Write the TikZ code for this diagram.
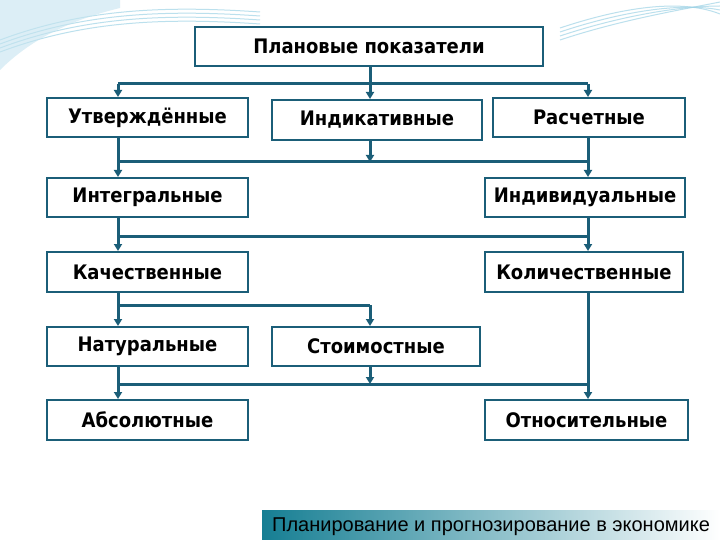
\documentclass[tikz,border=0pt]{standalone}
\usepackage{fontspec}
\setmainfont{Liberation Sans}
\newfontfamily\boxfont{DejaVu Sans Condensed}
\usetikzlibrary{arrows.meta}
\definecolor{ln}{HTML}{1B5E78}
\definecolor{sw}{HTML}{9FD3E6}
\begin{document}
\begin{tikzpicture}[x=1pt,y=-1pt,
  bx/.style={draw=ln,line width=2pt,fill=white,inner sep=0pt,font=\boxfont\fontsize{20}{22}\selectfont\bfseries},
  con/.style={draw=ln,line width=3pt},
  arr/.style={con,-{Triangle[length=7pt,width=8pt]}}]
\useasboundingbox (0,0) rectangle (720,540);
\fill[white] (0,0) rectangle (720,540);
% decorative swooshes
\foreach \d in {0,4,8,12}{
  \draw[sw,line width=1pt,opacity=0.7] (0,40+\d) .. controls (80,10+\d) and (160,5+\d) .. (260,12+\d);
  \draw[sw,line width=1pt,opacity=0.7] (560,40-\d) .. controls (620,20-\d) and (680,10-\d) .. (720,2+\d);
}
\fill[sw!60,opacity=0.6] (0,0) -- (0,70) .. controls (30,40) and (70,20) .. (120,8) -- (120,0) -- cycle;
% boxes
\node[bx,minimum width=348,minimum height=39] (top) at (369,46.5) {Плановые показатели};
\node[bx,minimum width=201,minimum height=39] (utv) at (147.5,117.5) {Утверждённые};
\node[bx,minimum width=210,minimum height=40] (ind) at (377,120) {Индикативные};
\node[bx,minimum width=192,minimum height=39] (ras) at (589,117.5) {Расчетные};
\node[bx,minimum width=201,minimum height=39] (int) at (147.5,197.5) {Интегральные};
\node[bx,minimum width=200,minimum height=39] (indv) at (585,197.5) {Индивидуальные};
\node[bx,minimum width=201,minimum height=40] (kach) at (147.5,272) {Качественные};
\node[bx,minimum width=198,minimum height=40] (kol) at (584,272) {Количественные};
\node[bx,minimum width=201,minimum height=39] (nat) at (147.5,346.5) {Натуральные};
\node[bx,minimum width=208,minimum height=39] (st) at (376,346.5) {Стоимостные};
\node[bx,minimum width=201,minimum height=40] (abs) at (147.5,420) {Абсолютные};
\node[bx,minimum width=203,minimum height=40] (otn) at (586.5,420) {Относительные};
% bus coordinates
\coordinate (b1l) at (118,84); \coordinate (b1r) at (588,84);
\coordinate (b2l) at (118,162); \coordinate (b2r) at (588,162);
\coordinate (b3l) at (118,236); \coordinate (b3r) at (588,236);
\coordinate (b4l) at (118,305); \coordinate (b4r) at (370,305);
\coordinate (b5l) at (118,384); \coordinate (b5r) at (588,384);
% row 1
\draw[con] (top.south -| 370,0) -- (370,84);
\draw[con] (b1l) -- (b1r);
\draw[arr] (b1l) -- (b1l |- utv.north);
\draw[arr] (370,84) -- (370,0 |- ind.north);
\draw[arr] (b1r) -- (b1r |- ras.north);
% row 2
\draw[con] (utv.south -| b2l) -- (b2l) -- (b2r) -- (ras.south -| b2r);
\draw[arr] (ind.south -| 370,0) -- (370,162);
\draw[arr] (b2l) -- (b2l |- int.north);
\draw[arr] (b2r) -- (b2r |- indv.north);
% row 3
\draw[con] (int.south -| b3l) -- (b3l) -- (b3r) -- (indv.south -| b3r);
\draw[arr] (b3l) -- (b3l |- kach.north);
\draw[arr] (b3r) -- (b3r |- kol.north);
% row 4
\draw[con] (kach.south -| b4l) -- (b4l) -- (b4r);
\draw[arr] (b4l) -- (b4l |- nat.north);
\draw[arr] (b4r) -- (b4r |- st.north);
% row 5
\draw[con] (nat.south -| b5l) -- (b5l) -- (b5r);
\draw[con] (kol.south -| b5r) -- (b5r);
\draw[arr] (st.south -| 370,0) -- (370,384);
\draw[arr] (b5l) -- (b5l |- abs.north);
\draw[arr] (b5r) -- (b5r |- otn.north);
% footer
\shade[left color=ln!80!cyan,right color=white] (262,510) rectangle (720,540);
\node[anchor=west,inner sep=0pt,font=\fontsize{20}{22}\selectfont] (ft) at (272,527) {Планирование и прогнозирование в экономике};
\end{tikzpicture}
\end{document}
